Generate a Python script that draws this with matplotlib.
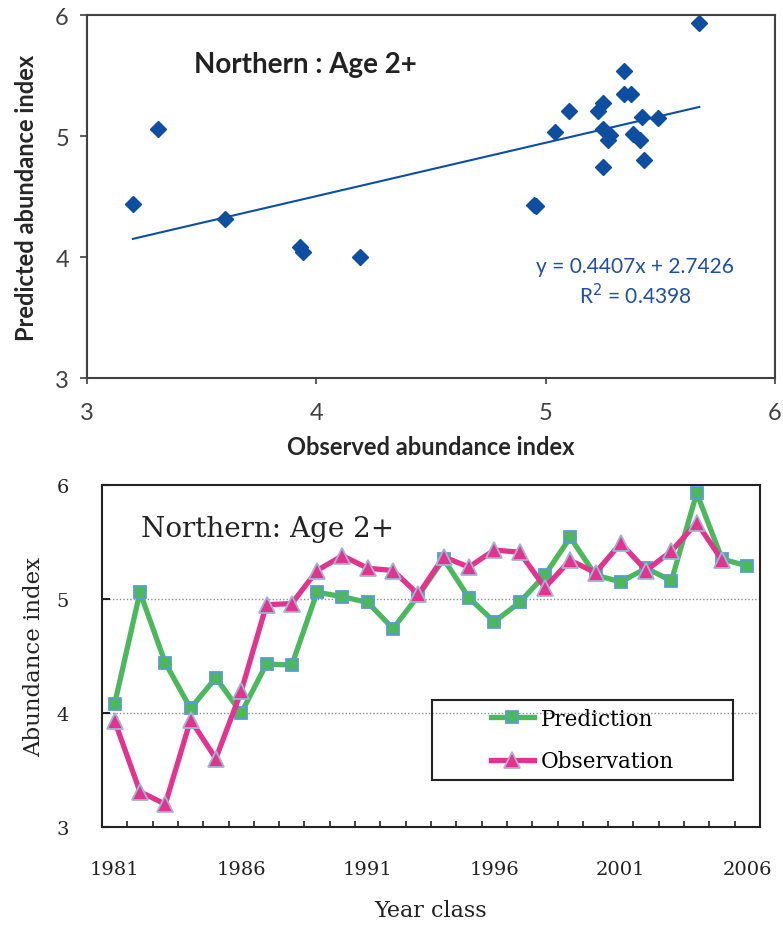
import numpy as np
import matplotlib
matplotlib.use("Agg")
import matplotlib.pyplot as plt
from matplotlib.patches import Rectangle

# year classes and abundance indices
years = list(range(1981, 2007))
predicted = [4.08, 5.06, 4.44, 4.04, 4.31, 4.00, 4.43, 4.42, 5.06, 5.02,
             4.97, 4.74, 5.03, 5.35, 5.01, 4.80, 4.97, 5.21, 5.54, 5.21,
             5.15, 5.27, 5.16, 5.93, 5.35, 5.29]
observed = [3.93, 3.31, 3.20, 3.94, 3.60, 4.19, 4.95, 4.96, 5.25, 5.38,
            5.27, 5.25, 5.04, 5.37, 5.28, 5.43, 5.41, 5.10, 5.34, 5.23,
            5.49, 5.25, 5.42, 5.67, 5.34]
year_labels = ['1981', '1986', '1991', '1996', '2001', '2006']

W, H = 783, 929
fig = plt.figure(figsize=(W / 100, H / 100), dpi=100)

# ---------- top: scatter with trend line ----------
ax1 = fig.add_axes([87 / W, 1 - 379 / H, (775 - 87) / W, (379 - 16) / H])
sans = 'Lato'
blue = '#0d4ea0'
dark = '#404040'

n = len(observed)
obs = np.array(observed)
pred = np.array(predicted[:n])
ax1.plot(obs, pred, linestyle='none', marker='D', ms=8.5, color=blue)
slope, icpt = np.polyfit(obs, pred, 1)
xs = np.array([obs.min(), obs.max()])
ax1.plot(xs, slope * xs + icpt, color=blue, lw=1.5)

ax1.set_xlim(3, 6)
ax1.set_ylim(3, 6)
ax1.set_xticks([3, 4, 5, 6])
ax1.set_yticks([3, 4, 5, 6])
for s in ax1.spines.values():
    s.set_color(dark)
    s.set_linewidth(1.5)
ax1.tick_params(axis='y', direction='out', length=5, width=1.2, color=dark,
                labelsize=17, labelcolor=dark, pad=8)
ax1.tick_params(axis='x', direction='out', length=4, width=1.2, color=dark,
                labelsize=17, labelcolor=dark, pad=13)
for lab in ax1.get_xticklabels() + ax1.get_yticklabels():
    lab.set_family(sans)
ax1.set_xlabel('Observed abundance index', fontsize=17, fontweight='bold',
               family=sans, color='#262626', labelpad=9)
ax1.set_ylabel('Predicted abundance index', fontsize=17, fontweight='bold',
               family=sans, color='#262626', labelpad=12)
ax1.text(0.317, 0.865, 'Northern : Age 2+', transform=ax1.transAxes,
         ha='center', va='center', fontsize=20, fontweight='bold',
         family=sans, color='#222222')
ax1.text(0.797, 0.309, 'y = 0.4407x + 2.7426', transform=ax1.transAxes,
         ha='center', va='center', fontsize=15, family=sans, color='#1f4fa0')
ax1.text(0.797, 0.229, 'R$^{2}$ = 0.4398', transform=ax1.transAxes,
         ha='center', va='center', fontsize=15, family=sans, color='#1f4fa0')

# ---------- bottom: time series ----------
ax2 = fig.add_axes([102 / W, 1 - 828 / H, (760 - 102) / W, (828 - 486) / H])
serif = 'DejaVu Serif'
pos = np.arange(len(years))

ax2.plot(pos, predicted, color='#4cb85c', lw=3.8, marker='s', ms=9,
         mfc='#4cb85c', mec='#5b9bd5', mew=1.3, label='Prediction', zorder=3)
ax2.plot(pos[:n], observed, color='#e2348f', lw=3.8, marker='^', ms=11.5,
         mfc='#e2348f', mec='#a3b3d6', mew=1.3, label='Observation', zorder=4)

ax2.set_xlim(-0.5, len(years) - 0.5)
ax2.set_ylim(3, 6)
ax2.set_yticks([3, 4, 5, 6])
for yv in [4, 5]:
    ax2.axhline(yv, color='#8c8c8c', lw=1, ls=(0, (1, 1.5)), zorder=1)
ax2.set_xticks([years.index(int(y)) for y in year_labels])
ax2.set_xticklabels(year_labels)
ax2.set_xticks(np.arange(0.5, len(years) - 1, 1), minor=True)
ax2.tick_params(axis='x', which='major', length=0, pad=24, labelsize=14,
                labelcolor='#222222')
ax2.tick_params(axis='x', which='minor', direction='in', length=4.5, width=1.2,
                color='#222222')
ax2.tick_params(axis='y', direction='in', length=6, width=1.5,
                color='#222222', labelsize=14, labelcolor='#222222', pad=24)
for lab in ax2.get_xticklabels() + ax2.get_yticklabels():
    lab.set_family(serif)
for s in ax2.spines.values():
    s.set_color('#222222')
    s.set_linewidth(1.5)
ax2.set_xlabel('Year class', fontsize=16, family=serif, color='#222222',
               labelpad=15)
ax2.set_ylabel('Abundance index', fontsize=16.5, family=serif, color='#222222',
               labelpad=8)
ax2.text(0.252, 0.874, 'Northern: Age 2+', transform=ax2.transAxes,
         ha='center', va='center', fontsize=20, family=serif, color='#222222')

ax2.add_patch(Rectangle((0.502, 0.137), 0.457, 0.234, transform=ax2.transAxes,
                        fill=False, ec='#222222', lw=1.5, zorder=5))
leg = ax2.legend(loc='center', bbox_to_anchor=(0.73, 0.254), frameon=False,
                 prop={'family': serif, 'size': 15.5}, handlelength=2.0,
                 handletextpad=0.3, labelspacing=0.95, borderpad=0)
leg.set_zorder(6)

fig.savefig('out.png', dpi=100)
